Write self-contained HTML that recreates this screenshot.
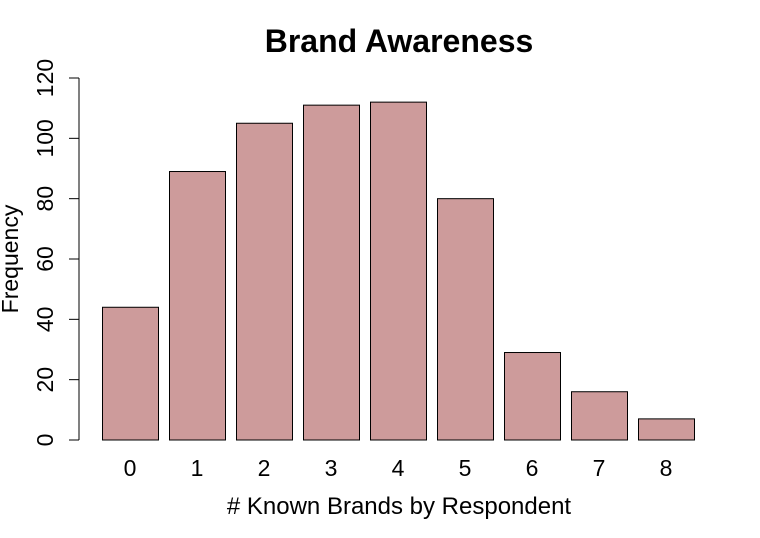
<!DOCTYPE html>
<html><head><meta charset="utf-8"><style>
html,body{margin:0;padding:0;background:#fff;}
svg{display:block;font-family:"Liberation Sans",Arial,sans-serif;}
</style></head><body>
<svg id="chart" width="760" height="538" viewBox="0 0 760 538">
<text x="399" y="52" text-anchor="middle" font-size="32" font-weight="bold">Brand Awareness</text>
<text x="399" y="514" text-anchor="middle" font-size="24"># Known Brands by Respondent</text>
<text transform="translate(18,259) rotate(-90)" text-anchor="middle" font-size="23">Frequency</text>
<g id="bars"></g>
<g id="yaxis"></g>
<g id="xlabels"></g>
</svg>
<script>
const categories = ["0","1","2","3","4","5","6","7","8"];
const values = [44, 89, 105, 111, 112, 80, 29, 16, 7];
const yTicks = [0, 20, 40, 60, 80, 100, 120];
const NS = "http://www.w3.org/2000/svg";
const y0 = 440, y1 = 78, yMax = 120;
function yScale(v){ return y0 - (y0 - y1) * v / yMax; }
function xLeft(i){ return 102 + 67 * i; }
const barW = 56;
const bars = document.getElementById('bars');
const xl = document.getElementById('xlabels');
values.forEach((v, i) => {
  const r = document.createElementNS(NS, 'rect');
  r.setAttribute('x', xLeft(i) + 0.5);
  r.setAttribute('y', yScale(v));
  r.setAttribute('width', barW);
  r.setAttribute('height', y0 - yScale(v));
  r.setAttribute('fill', '#CD9B9B');
  r.setAttribute('stroke', '#000');
  r.setAttribute('stroke-width', '1');
  
  
  bars.appendChild(r);
  const t = document.createElementNS(NS, 'text');
  t.setAttribute('x', xLeft(i) + barW / 2);
  t.setAttribute('y', 476);
  t.setAttribute('text-anchor', 'middle');
  t.setAttribute('font-size', '23');
  t.textContent = categories[i];
  
  
  xl.appendChild(t);
});
const ya = document.getElementById('yaxis');
const ax = document.createElementNS(NS, 'line');
ax.setAttribute('x1', 79); ax.setAttribute('x2', 79);
ax.setAttribute('y1', yScale(yTicks[0])); ax.setAttribute('y2', yScale(yTicks[yTicks.length - 1]));
ax.setAttribute('stroke', '#000');


ya.appendChild(ax);
yTicks.forEach(v => {
  const y = yScale(v);
  const l = document.createElementNS(NS, 'line');
  l.setAttribute('x1', 69); l.setAttribute('x2', 79);
  l.setAttribute('y1', y); l.setAttribute('y2', y);
  l.setAttribute('stroke', '#000');
  
  
  ya.appendChild(l);
  const t = document.createElementNS(NS, 'text');
  t.setAttribute('transform', 'translate(53,' + y + ') rotate(-90)');
  t.setAttribute('text-anchor', 'middle');
  t.setAttribute('font-size', '23');
  t.textContent = v;
  
  
  ya.appendChild(t);
});
</script>
</body></html>
